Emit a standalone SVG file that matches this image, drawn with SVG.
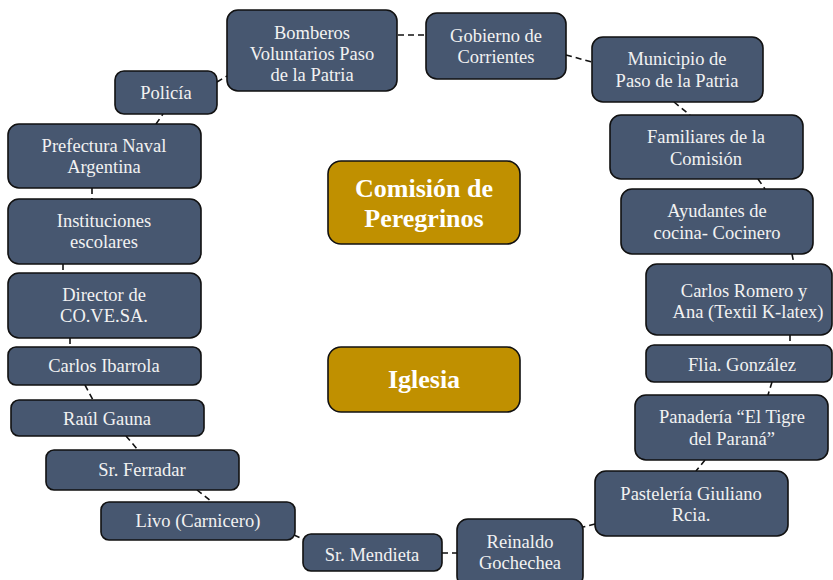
<svg xmlns="http://www.w3.org/2000/svg" width="833" height="580" viewBox="0 0 833 580">
<style>
.n rect{fill:#475770;stroke:#111;stroke-width:1.6}
.n text{fill:#f2f2f2;font-family:"Liberation Serif","Times New Roman",serif;font-size:18.5px;text-anchor:middle}
.g rect{fill:#C09000;stroke:#111;stroke-width:1.6}
.g text{fill:#fff;font-family:"Liberation Serif","Times New Roman",serif;font-size:26px;font-weight:bold;text-anchor:middle}
.c line{stroke:#111;stroke-width:1.6;stroke-dasharray:6 4}
</style>
<rect width="833" height="580" fill="#fff"/>
<g class="c" id="connectors">
<line x1="398" y1="35" x2="426" y2="35"/>
<line x1="566" y1="55" x2="592" y2="62"/>
<line x1="674" y1="102" x2="690" y2="115"/>
<line x1="758" y1="179" x2="765" y2="189"/>
<line x1="792" y1="254" x2="794" y2="264"/>
<line x1="790" y1="335" x2="790" y2="345"/>
<line x1="772" y1="382" x2="768" y2="395"/>
<line x1="705" y1="460" x2="696" y2="471"/>
<line x1="595" y1="524" x2="583" y2="527"/>
<line x1="442" y1="553" x2="457" y2="553"/>
<line x1="294" y1="535" x2="303" y2="539"/>
<line x1="197" y1="490" x2="212" y2="502"/>
<line x1="126" y1="436" x2="138" y2="450"/>
<line x1="85" y1="385" x2="93" y2="400"/>
<line x1="70" y1="338" x2="70" y2="347"/>
<line x1="63" y1="264" x2="63" y2="273"/>
<line x1="92" y1="188" x2="92" y2="199"/>
<line x1="156" y1="124" x2="163" y2="114"/>
<line x1="217" y1="82" x2="227" y2="76"/>
</g>
<g class="n" id="bomberos"><rect x="227" y="10" width="170" height="81" rx="11"/><text x="312" y="39">Bomberos</text><text x="312" y="60">Voluntarios Paso</text><text x="312" y="81">de la Patria</text></g>
<g class="n" id="gobierno"><rect x="426" y="13" width="140" height="66" rx="11"/><text x="496" y="42">Gobierno de</text><text x="496" y="63">Corrientes</text></g>
<g class="n" id="municipio"><rect x="592" y="37" width="171" height="65" rx="11"/><text x="677" y="65">Municipio de</text><text x="677" y="87">Paso de la Patria</text></g>
<g class="n" id="familiares"><rect x="610" y="115" width="193" height="64" rx="11"/><text x="706" y="143">Familiares de la</text><text x="706" y="165">Comisión</text></g>
<g class="n" id="ayudantes"><rect x="621" y="189" width="192" height="65" rx="11"/><text x="717" y="217">Ayudantes de</text><text x="717" y="239">cocina- Cocinero</text></g>
<g class="n" id="romero"><rect x="646" y="264" width="186" height="71" rx="11"/><text x="744" y="297">Carlos Romero y</text><text x="748" y="318">Ana (Textil K-latex)</text></g>
<g class="n" id="gonzalez"><rect x="646" y="345" width="186" height="37" rx="8"/><text x="742" y="371">Flia. González</text></g>
<g class="n" id="panaderia"><rect x="635" y="395" width="193" height="65" rx="11"/><text x="732" y="423">Panadería “El Tigre</text><text x="732" y="445">del Paraná”</text></g>
<g class="n" id="pasteleria"><rect x="595" y="471" width="193" height="65" rx="11"/><text x="691" y="500">Pastelería Giuliano</text><text x="691" y="521">Rcia.</text></g>
<g class="n" id="reinaldo"><rect x="457" y="519" width="126" height="68" rx="11"/><text x="520" y="548">Reinaldo</text><text x="520" y="569">Gochechea</text></g>
<g class="n" id="mendieta"><rect x="303" y="534" width="139" height="37" rx="8"/><text x="372" y="561">Sr. Mendieta</text></g>
<g class="n" id="livo"><rect x="101" y="502" width="194" height="38" rx="8"/><text x="198" y="527">Livo (Carnicero)</text></g>
<g class="n" id="ferradar"><rect x="46" y="450" width="193" height="40" rx="8"/><text x="142" y="476">Sr. Ferradar</text></g>
<g class="n" id="gauna"><rect x="11" y="400" width="193" height="36" rx="8"/><text x="107" y="425">Raúl Gauna</text></g>
<g class="n" id="ibarrola"><rect x="8" y="347" width="193" height="38" rx="8"/><text x="104" y="372">Carlos Ibarrola</text></g>
<g class="n" id="director"><rect x="8" y="273" width="193" height="65" rx="11"/><text x="104" y="301">Director de</text><text x="104" y="322">CO.VE.SA.</text></g>
<g class="n" id="instituciones"><rect x="8" y="199" width="193" height="65" rx="11"/><text x="104" y="227">Instituciones</text><text x="104" y="248">escolares</text></g>
<g class="n" id="prefectura"><rect x="8" y="124" width="193" height="64" rx="11"/><text x="104" y="152">Prefectura Naval</text><text x="104" y="173">Argentina</text></g>
<g class="n" id="policia"><rect x="115" y="71" width="102" height="43" rx="9"/><text x="166" y="99">Policía</text></g>
<g class="g" id="comision"><rect x="328" y="161" width="192" height="83" rx="13"/><text x="424" y="197">Comisión de</text><text x="424" y="227">Peregrinos</text></g>
<g class="g" id="iglesia"><rect x="328" y="347" width="192" height="65" rx="13"/><text x="424" y="388">Iglesia</text></g>
</svg>
